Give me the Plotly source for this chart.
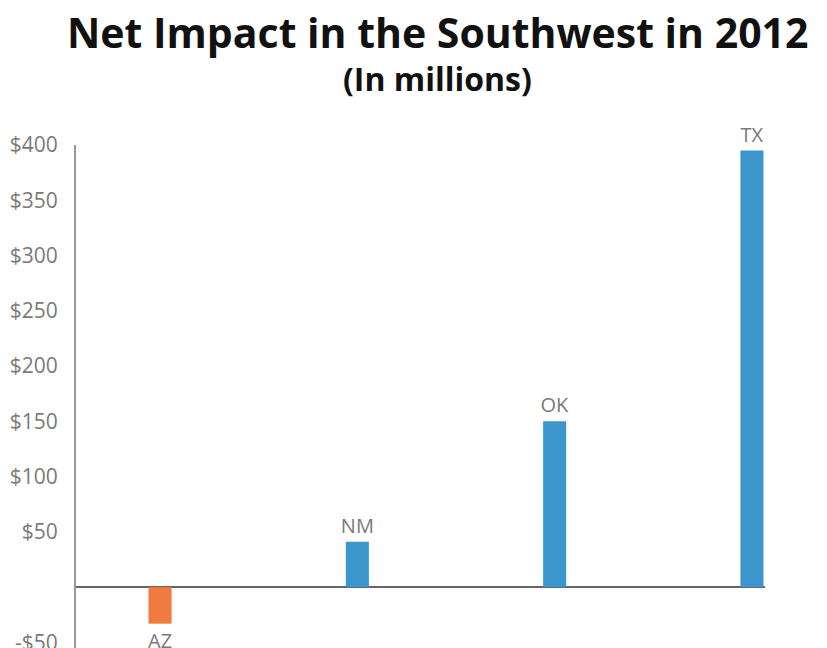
import plotly.graph_objects as go

states = ["AZ", "NM", "OK", "TX"]
impact = [-33, 41, 150, 395]
bar_colors = ["#F07B3F", "#3D95CE", "#3D95CE", "#3D95CE"]
tick_vals = [-50, 50, 100, 150, 200, 250, 300, 350, 400]
tick_text = ["-$50", "$50", "$100", "$150", "$200", "$250", "$300", "$350", "$400"]

fig = go.Figure()
fig.add_trace(go.Bar(
    x=states, y=impact,
    marker=dict(color=bar_colors, line=dict(width=0)),
    width=0.117,
    text=states, textposition="outside", cliponaxis=False,
    constraintext="none",
    textfont=dict(family="Open Sans", size=20, color="#7a7a7a"),
))

fig.update_layout(
    width=827, height=648,
    paper_bgcolor="white", plot_bgcolor="white",
    margin=dict(l=68, r=70, t=137, b=8, autoexpand=False),
    showlegend=False,
    annotations=[
        dict(text="<b>Net Impact in the Southwest in 2012</b>", xref="paper", yref="paper",
             x=0.524, y=1.0, yshift=113, xanchor="center", yanchor="middle", showarrow=False,
             font=dict(family="Open Sans", size=41, color="#111111")),
        dict(text="<b>(In millions)</b>", xref="paper", yref="paper",
             x=0.524, y=1.0, yshift=67, xanchor="center", yanchor="middle", showarrow=False,
             font=dict(family="Open Sans", size=32, color="#111111")),
    ],
    xaxis=dict(
        range=[-0.426, 3.066], showticklabels=False, showgrid=False,
        zeroline=False, showline=False, ticks="", automargin=False,
    ),
    yaxis=dict(
        range=[-55, 400], tickvals=tick_vals, ticktext=tick_text,
        showgrid=False, zeroline=True, zerolinecolor="#666666", zerolinewidth=1.5,
        showline=True, linecolor="#999999", linewidth=2,
        ticks="", ticklabelstandoff=12, automargin=False,
        tickfont=dict(family="Open Sans", size=21, color="#7a7a7a"),
    ),
)

fig.write_html("out.html")
